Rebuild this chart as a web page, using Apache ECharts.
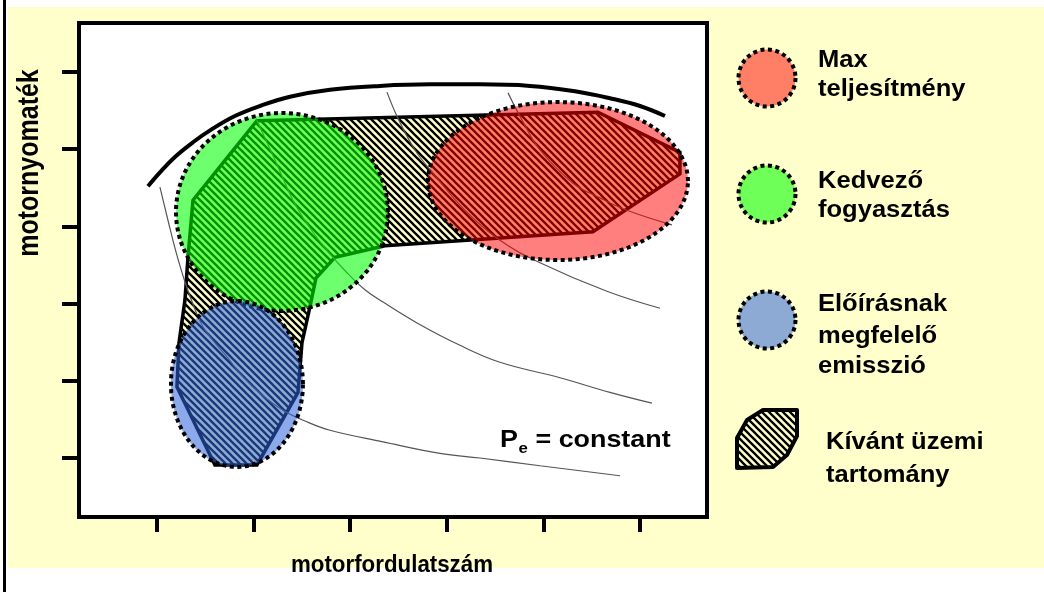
<!DOCTYPE html>
<html>
<head>
<meta charset="utf-8">
<script src="https://cdn.jsdelivr.net/npm/echarts@6/dist/echarts.min.js"></script>
<style>
  html, body { margin: 0; padding: 0; background: #fff; }
  #chart { width: 1044px; height: 592px; }
</style>
</head>
<body>
<div id="chart"></div>
<script>
// Engine map: speed (x) against torque (y), both in schematic tick units.
const xTicks = [10, 20, 30, 40, 50, 60];
const yTicks = [10, 20, 30, 40, 50, 60];
const xRange = [1.93, 66.94];
const yRange = [2.36, 66.35];

// Full-load torque curve
const torqueLimit = [
  [9.07, 45.2], [10.31, 47.0], [11.86, 49.0], [13.73, 50.9], [15.69, 52.6],
  [18.07, 54.3], [20.66, 55.6], [23.77, 56.8], [27.91, 57.7], [33.08, 58.2],
  [38.26, 58.4], [43.44, 58.4], [48.61, 58.2], [53.27, 57.5], [56.89, 56.6],
  [60.0, 55.6], [62.59, 54.3]
];

// Constant power lines
const powerLine1 = [
  [10.31, 45.1], [11.14, 40.8], [11.97, 36.7], [12.90, 32.8], [13.83, 29.6],
  [14.76, 27.0], [16.00, 24.9], [17.25, 23.1], [18.90, 20.5], [20.66, 18.4],
  [23.04, 16.2], [25.32, 14.8], [27.91, 13.6], [33.40, 12.1], [39.30, 10.6],
  [43.44, 10.0], [49.65, 9.0], [57.93, 7.7]
];
const powerLine2 = [
  [20.25, 54.0], [22.22, 48.6], [24.08, 43.4], [25.84, 39.8], [27.60, 36.9],
  [29.67, 34.0], [31.53, 31.8], [33.40, 30.2], [36.92, 27.5], [41.37, 24.6],
  [45.51, 22.4], [51.72, 20.4], [56.89, 18.5], [61.24, 17.1]
];
const powerLine3 = [
  [33.81, 57.4], [34.95, 54.0], [36.71, 49.9], [38.57, 46.9], [41.88, 42.1],
  [45.51, 38.2], [49.65, 35.3], [56.58, 31.6], [62.07, 29.4]
];
const powerLine4 = [
  [46.34, 57.3], [47.78, 53.8], [49.65, 49.9], [53.06, 45.6], [55.86, 43.7],
  [58.65, 42.1], [63.31, 40.2]
];

// Desired operating range (outline)
const operatingRange = [
  [20.35, 53.7], [55.65, 54.8], [64.14, 49.6], [64.14, 46.8], [55.13, 39.3],
  [42.09, 38.2], [33.60, 37.5], [28.43, 36.0], [26.46, 33.3], [25.84, 29.6],
  [25.01, 24.9], [24.60, 18.5], [20.35, 9.1], [16.00, 9.1], [12.07, 19.2],
  [12.28, 24.9], [12.90, 30.5], [13.21, 36.0], [13.73, 43.4]
];

// Target zones: centre x, centre y, radius x, radius y
const zoneNames = ['Max teljesítmény', 'Kedvező fogyasztás', 'Előírásnak megfelelő emisszió'];
const zoneEllipses = [
  [51.51, 45.88, 13.46, 10.23],
  [22.94, 41.87, 10.97, 12.82],
  [18.28, 19.59, 6.83, 10.75]
];
const zoneColors = ['rgba(255,0,0,0.5)', 'rgba(0,255,0,0.57)', 'rgba(45,100,218,0.55)'];

// Legend text lines
const legendLines = [
  ['Max', 'teljesítmény'],
  ['Kedvező', 'fogyasztás'],
  ['Előírásnak', 'megfelelő', 'emisszió'],
  ['Kívánt üzemi', 'tartomány']
];
const curveLabel = ['P', 'e', ' = constant'];
const xTitle = 'motorfordulatszám';
const yTitle = 'motornyomaték';

const FONT = '"Liberation Sans", Arial, sans-serif';

// Diagonal hatch tile
function hatchTile(bg) {
  const s = 7;
  const c = document.createElement('canvas');
  c.width = s; c.height = s;
  const g = c.getContext('2d');
  if (bg) { g.fillStyle = bg; g.fillRect(0, 0, s, s); }
  g.strokeStyle = '#000';
  g.lineWidth = 2.3;
  g.beginPath();
  for (const k of [-s, 0, s]) {
    g.moveTo(-2, -2 + k);
    g.lineTo(s + 2, s + 2 + k);
  }
  g.stroke();
  return c;
}
const hatchFill = { image: hatchTile('#FFFFCC'), repeat: 'repeat' };

function renderRange(params, api) {
  if (params.dataIndex !== 0) return null;
  const pts = operatingRange.map(p => api.coord(p));
  return {
    type: 'polygon',
    shape: { points: pts },
    style: { fill: hatchFill, stroke: '#000', lineWidth: 3.5, lineJoin: 'miter' }
  };
}

function renderZone(params, api) {
  const cx = api.value(0), cy = api.value(1), rx = api.value(2), ry = api.value(3);
  const pts = [];
  const n = 120;
  for (let i = 0; i < n; i++) {
    const t = i / n * Math.PI * 2;
    pts.push(api.coord([cx + rx * Math.cos(t), cy + ry * Math.sin(t)]));
  }
  return {
    type: 'polygon',
    shape: { points: pts },
    style: {
      fill: zoneColors[params.dataIndex],
      stroke: '#000',
      lineWidth: 4,
      lineDash: [4, 3.5]
    }
  };
}

function thinLine(data) {
  return {
    type: 'line', data: data, smooth: 0.4, symbol: 'none', silent: true,
    lineStyle: { color: '#555', width: 1.2 }, z: 3, animation: false
  };
}

function txt(x, y, text, size, stretch, align) {
  return {
    type: 'text', x: x, y: y, z: 100, silent: true,
    scaleX: stretch,
    style: {
      text: text,
      font: 'bold ' + size + 'px ' + FONT,
      fill: '#000',
      textAlign: align || 'left', align: align || 'left',
      textVerticalAlign: 'middle', verticalAlign: 'middle'
    }
  };
}

// Legend graphics
const legendY = [[61, 90], [182, 211], [305, 337, 367], [443, 476]];
const legendCircleY = [78, 194, 320];
const graphics = [
  { type: 'rect', shape: { x: 0, y: 0, width: 1044, height: 7 }, style: { fill: '#fff' }, z: 1 },
  { type: 'rect', shape: { x: 0, y: 568, width: 1044, height: 24 }, style: { fill: '#fff' }, z: 1 },
  { type: 'rect', shape: { x: 0, y: 0, width: 8, height: 592 }, style: { fill: '#fff' }, z: 1 },
  { type: 'rect', shape: { x: 3, y: 0, width: 3, height: 592 }, style: { fill: '#000' }, z: 2 }
];
legendCircleY.forEach((cy, i) => {
  graphics.push({
    type: 'circle', z: 100, silent: true,
    shape: { cx: 767, cy: cy, r: 28.5 },
    style: { fill: zoneColors[i], stroke: '#000', lineWidth: 4, lineDash: [4, 3.5] }
  });
});
graphics.push({
  type: 'polygon', z: 100, silent: true,
  shape: { points: [[737, 468], [737, 438], [747, 420], [763, 410], [797, 410], [797, 436], [787, 455], [773, 467]] },
  style: { fill: hatchFill, stroke: '#000', lineWidth: 4, lineJoin: 'round' }
});
legendLines.forEach((lines, i) => {
  const x = i === 3 ? 826 : 818;
  lines.forEach((t, j) => graphics.push(txt(x, legendY[i][j], t, 23, 1.11)));
});
// Constant power label
graphics.push(txt(500, 440, curveLabel[0], 24, 1.12));
graphics.push(txt(518.5, 449, curveLabel[1], 15, 1.12));
graphics.push(txt(528, 440, curveLabel[2], 24, 1.12));
// Axis titles
graphics.push(txt(392, 566, xTitle, 23, 0.97, 'center'));
graphics.push({
  type: 'text', x: 30, y: 163, z: 100, silent: true,
  rotation: Math.PI / 2, scaleY: 1.15,
  style: { text: yTitle, font: 'bold 25px ' + FONT, fill: '#000', textAlign: 'center', align: 'center', textVerticalAlign: 'middle', verticalAlign: 'middle' }
});

const axisCommon = {
  type: 'value',
  axisLine: { show: true, onZero: false, lineStyle: { color: '#000', width: 4 } },
  axisLabel: { show: false },
  splitLine: { show: false },
  name: ''
};

const chart = echarts.init(document.getElementById('chart'), null, { renderer: 'canvas' });
chart.setOption({
  backgroundColor: '#FFFFCC',
  animation: false,
  grid: {
    left: 79, top: 23, width: 628, height: 494,
    show: true, backgroundColor: '#fff', borderColor: '#000', borderWidth: 4,
    containLabel: false, outerBoundsMode: 'none'
  },
  xAxis: Object.assign({}, axisCommon, {
    min: xRange[0], max: xRange[1],
    axisTick: { show: true, length: 15, lineStyle: { color: '#000', width: 4 }, customValues: xTicks }
  }),
  yAxis: Object.assign({}, axisCommon, {
    min: yRange[0], max: yRange[1],
    axisTick: { show: true, length: 17, lineStyle: { color: '#000', width: 4 }, customValues: yTicks }
  }),
  graphic: { elements: graphics },
  series: [
    {
      type: 'custom', name: 'Kívánt üzemi tartomány', data: operatingRange,
      renderItem: renderRange, z: 2, silent: true, clip: false
    },
    thinLine(powerLine1),
    thinLine(powerLine2),
    thinLine(powerLine3),
    thinLine(powerLine4),
    {
      type: 'custom', name: 'zones', data: zoneEllipses,
      renderItem: renderZone, z: 4, silent: true, clip: false
    },
    {
      type: 'line', data: torqueLimit, smooth: 0.4, symbol: 'none', silent: true,
      lineStyle: { color: '#000', width: 4 }, z: 5
    }
  ]
});
</script>
</body>
</html>
